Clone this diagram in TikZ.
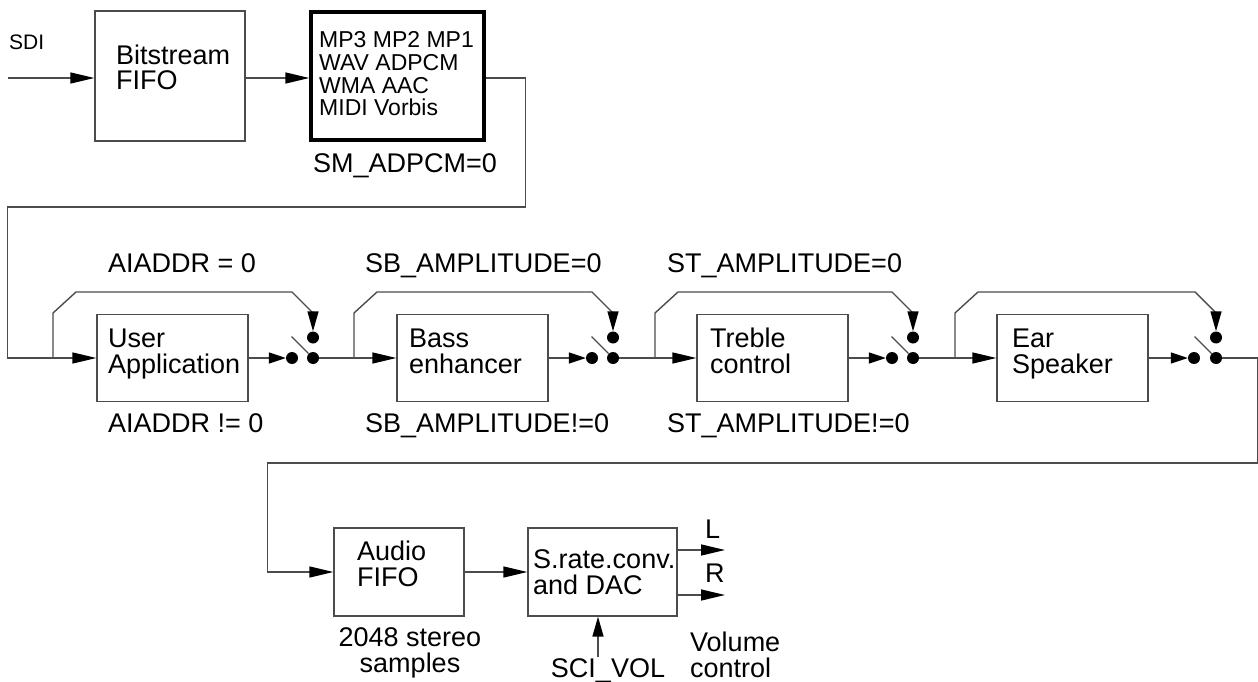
\documentclass[tikz,border=0pt]{standalone}
\usepackage{fontspec}
\setmainfont{Liberation Sans}
\usetikzlibrary{arrows.meta,positioning,calc}
\tikzset{
  box/.style={draw=black!70, line width=1.3pt, inner sep=0pt, minimum width=151pt, minimum height=87pt},
  txt/.style={anchor=base west, inner sep=0pt, align=left, font=\fontsize{27}{25.5}\selectfont},
  wire/.style={draw=black!70, line width=1.4pt},
  arrow/.style={wire, -{Triangle[length=24pt,width=11pt,color=black]}},
  swarrow/.style={wire, -{Triangle[length=17pt,width=11pt,color=black]}},
  bypass/.style={wire, -{Triangle[length=20pt,width=11pt,color=black]}},
  contact/.style={circle, fill=black, minimum size=12pt, inner sep=0pt},
  lever/.style={draw=black!70, line width=1.1pt},
}

\begin{document}
\begin{tikzpicture}[x=1pt,y=-1pt]
    \useasboundingbox (0,0) rectangle (1258,682);

    % Input and decoder (multi-line texts are placed by their last baseline)
    \node[box, minimum width=150pt, minimum height=130pt] (bfifo) at (170,76) {};
    \node[box, draw=black, line width=3.4pt, minimum width=173pt, minimum height=128pt] (dec) at (397.5,76) {};
    \node[txt, font=\fontsize{21}{21}\selectfont] (sdi) at (9,50) {SDI};
    \coordinate (sdiin) at (8,78);
    \node[txt] (bfifo-txt) at (116,90) {Bitstream\\FIFO};
    \node[txt, font=\fontsize{23}{22.7}\selectfont] (dec-txt) at (319,116) {MP3 MP2 MP1\\WAV ADPCM\\WMA AAC\\MIDI Vorbis};
    \node[txt] (adpcm) at (313,172) {SM\_ADPCM=0};
    \draw[arrow] (sdiin) -- (bfifo.west |- sdiin);
    \draw[arrow] (bfifo.east |- sdiin) -- (dec.west |- sdiin);

    % Processing chain
    \node[box] (ua) at (172.5,358) {};
    \node[box] (bass) at (472.5,358) {};
    \node[box] (treb) at (772.5,358) {};
    \node[box] (ear) at (1072.5,358) {};
    \node[txt] (ua-txt) at (108,373) {User\\Application};
    \node[txt] (bass-txt) at (409,373) {Bass\\enhancer};
    \node[txt] (treb-txt) at (710,373) {Treble\\control};
    \node[txt] (ear-txt) at (1012,373) {Ear\\Speaker};

    \node[txt] (on1) at (108,272) {AIADDR = 0};
    \node[txt] (on2) at (365,272) {SB\_AMPLITUDE=0};
    \node[txt] (on3) at (667,272) {ST\_AMPLITUDE=0};
    \node[txt] (off1) at (108,432) {AIADDR != 0};
    \node[txt] (off2) at (365,432) {SB\_AMPLITUDE!=0};
    \node[txt] (off3) at (667,432) {ST\_AMPLITUDE!=0};

    % Switch contacts
    \node[contact] (s1in) at (292,358) {};
    \node[contact] (s1out) at (313,358) {};
    \node[contact] (s1top) at (313,337.5) {};
    \node[contact] (s2in) at (592,358) {};
    \node[contact] (s2out) at (613,358) {};
    \node[contact] (s2top) at (613,337.5) {};
    \node[contact] (s3in) at (892,358) {};
    \node[contact] (s3out) at (913,358) {};
    \node[contact] (s3top) at (913,337.5) {};
    \node[contact] (s4in) at (1194,358) {};
    \node[contact] (s4out) at (1216,358) {};
    \node[contact] (s4top) at (1216,337.5) {};

    \coordinate (b1) at (53,358);
    \coordinate (b2) at (354,358);
    \coordinate (b3) at (655,358);
    \coordinate (b4) at (955,358);

    % Wiring
    \draw[arrow] (dec.east |- sdiin) -- ++(40,0) -- ++(0,129) -| ([xshift=-89pt]ua.west) -- (ua.west);
    \draw[swarrow] (ua.east) -- (s1in.west);
    \draw[arrow] (s1out.east) -- (bass.west);
    \draw[swarrow] (bass.east) -- (s2in.west);
    \draw[arrow] (s2out.east) -- (treb.west);
    \draw[swarrow] (treb.east) -- (s3in.west);
    \draw[arrow] (s3out.east) -- (ear.west);
    \draw[swarrow] (ear.east) -- (s4in.west);

    % Bypass paths
    \draw[bypass] (b1) -- ++(0,-45) -- ++(23,-21) -- ++(216,0) -- ++(21,21) -- (s1top.north);
    \draw[bypass] (b2) -- ++(0,-45) -- ++(23,-21) -- ++(215,0) -- ++(21,21) -- (s2top.north);
    \draw[bypass] (b3) -- ++(0,-45) -- ++(23,-21) -- ++(214,0) -- ++(21,21) -- (s3top.north);
    \draw[bypass] (b4) -- ++(0,-45) -- ++(23,-21) -- ++(217,0) -- ++(21,21) -- (s4top.north);

    % Switch levers
    \draw[lever] (s1out.north west) -- ++(-17,-17);
    \draw[lever] (s2out.north west) -- ++(-17,-17);
    \draw[lever] (s3out.north west) -- ++(-17,-17);
    \draw[lever] (s4out.north west) -- ++(-17,-17);

    % Output stage
    \node[box, minimum width=130pt, minimum height=88pt] (afifo) at (399,572) {};
    \node[box, minimum width=149pt, minimum height=88pt] (dac) at (602.5,572) {};
    \node[txt] (afifo-txt) at (357,586) {Audio\\FIFO};
    \node[txt] (dac-txt) at (533,594) {S.rate.conv.\\and DAC};
    \node[txt, anchor=base, align=center] (samples) at (410,672) {2048 stereo\\samples};
    \node[txt, anchor=base] (scivol) at (608,677) {SCI\_VOL};
    \node[txt] (volume) at (690,677) {Volume\\control};
    \node[txt] (lout) at (705,538) {L};
    \node[txt] (rout) at (705,582) {R};
    \coordinate (lend) at (725,550);
    \coordinate (rend) at (725,595);
    \coordinate (volin) at (598,657);

    \draw[arrow] (s4out.east) -- ++(35,0) -- ++(0,105) -| ([xshift=-66pt]afifo.west) -- (afifo.west);
    \draw[arrow] (afifo.east) -- (dac.west);
    \draw[arrow] (dac.east |- lend) -- (lend);
    \draw[arrow] (dac.east |- rend) -- (rend);
    \draw[bypass] (volin) -- (volin |- dac.south);
\end{tikzpicture}
\end{document}
